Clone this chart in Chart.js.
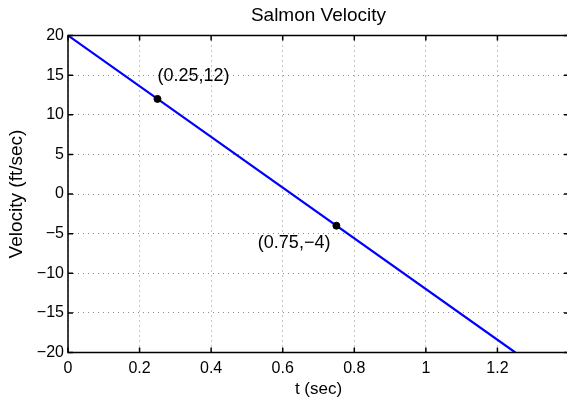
<!DOCTYPE html>
<html>
<head>
<meta charset="utf-8">
<script src="https://cdn.jsdelivr.net/npm/chart.js@4/dist/chart.umd.min.js"></script>
<style>
  html, body { margin: 0; padding: 0; background: #fff; overflow: hidden; width: 567px; height: 400px; }
  canvas { display: block; }
</style>
</head>
<body>
<canvas id="c" width="575" height="400"></canvas>
<script>
// ---- data ----
const lineT = [0, 1.25];
const lineV = [20, -20];
const pointT = [0.25, 0.75];
const pointV = [12, -4];
const pointLabels = ['(0.25,12)', '(0.75,\u22124)'];
const xMin = 0, xMax = 1.4, xStep = 0.2;
const yMin = -20, yMax = 20, yStep = 5;
const titleText = 'Salmon Velocity';
const xTitle = 't (sec)';
const yTitle = 'Velocity (ft/sec)';

const FONT = "'Liberation Sans', Arial, Helvetica, sans-serif";

function fmt(v) {
  const n = Number(v.toFixed(4));
  return String(n).replace('-', '\u2212');
}

const boxPlugin = {
  id: 'matlabBox',
  afterDatasetsDraw(chart) {
    const ctx = chart.ctx;
    const a = chart.chartArea;
    const xs = chart.scales.x, ys = chart.scales.y;
    ctx.save();
    ctx.strokeStyle = '#000';
    ctx.lineWidth = 1.5;
    const tl = 5;
    ctx.beginPath();
    xs.ticks.forEach(t => {
      const px = xs.getPixelForValue(t.value);
      ctx.moveTo(px, a.bottom); ctx.lineTo(px, a.bottom - tl);
      ctx.moveTo(px, a.top); ctx.lineTo(px, a.top + tl);
    });
    ys.ticks.forEach(t => {
      const py = ys.getPixelForValue(t.value);
      ctx.moveTo(a.left, py); ctx.lineTo(a.left + tl, py);
      ctx.moveTo(a.right, py); ctx.lineTo(a.right - tl, py);
    });
    ctx.stroke();
    ctx.strokeRect(a.left, a.top, a.right - a.left, a.bottom - a.top);
    ctx.restore();
  },
  afterDraw(chart) {
    const ctx = chart.ctx;
    const xs = chart.scales.x, ys = chart.scales.y;
    ctx.save();
    ctx.fillStyle = '#000';
    ctx.font = '18px ' + FONT;
    ctx.textBaseline = 'middle';
    let px = xs.getPixelForValue(pointT[0]), py = ys.getPixelForValue(pointV[0]);
    ctx.textAlign = 'left';
    ctx.fillText(pointLabels[0], px, py - 23);
    px = xs.getPixelForValue(pointT[1]); py = ys.getPixelForValue(pointV[1]);
    ctx.textAlign = 'right';
    ctx.fillText(pointLabels[1], px - 6, py + 17.5);
    ctx.restore();
  }
};

new Chart(document.getElementById('c'), {
  type: 'scatter',
  data: {
    datasets: [
      {
        type: 'line',
        data: lineT.map((t, i) => ({ x: t, y: lineV[i] })),
        borderColor: '#0000ff',
        borderWidth: 2.2,
        pointRadius: 0,
        fill: false,
        tension: 0,
        order: 2
      },
      {
        data: pointT.map((t, i) => ({ x: t, y: pointV[i] })),
        backgroundColor: '#000',
        borderColor: '#000',
        pointRadius: 3.5,
        order: 1
      }
    ]
  },
  options: {
    responsive: false,
    animation: false,
    devicePixelRatio: 1,
    layout: { padding: { left: 0, right: 4, top: 0, bottom: 0 } },
    plugins: {
      legend: { display: false },
      tooltip: { enabled: false },
      title: {
        display: true,
        text: titleText,
        fullSize: false,
        color: '#000',
        font: { family: FONT, size: 19, weight: 'normal' },
        padding: { top: 4, bottom: 8.7 }
      }
    },
    scales: {
      x: {
        type: 'linear',
        min: xMin, max: xMax,
        ticks: {
          stepSize: xStep,
          color: '#000',
          font: { family: FONT, size: 16 },
          padding: 6,
          maxRotation: 0,
          autoSkip: false,
          callback: v => (v > 1.3 ? '' : fmt(v))
        },
        grid: { color: '#8a8a8a', lineWidth: 1, drawTicks: false },
        border: { display: false, dash: [1, 4] },
        title: {
          display: true, text: xTitle, color: '#000',
          font: { family: FONT, size: 17 },
          padding: { top: 0, bottom: 0 }
        },
        afterFit: s => { s.height = 47.5; }
      },
      y: {
        type: 'linear',
        min: yMin, max: yMax,
        ticks: {
          stepSize: yStep,
          color: '#000',
          font: { family: FONT, size: 16 },
          padding: 4,
          autoSkip: false,
          callback: v => fmt(v)
        },
        grid: { color: '#8a8a8a', lineWidth: 1, drawTicks: false },
        border: { display: false, dash: [1, 4] },
        title: {
          display: true, text: yTitle, color: '#000',
          font: { family: FONT, size: 19 },
          padding: { top: 5, bottom: 0 }
        },
        afterFit: s => { s.width = 68; }
      }
    }
  },
  plugins: [boxPlugin]
});
</script>
</body>
</html>
